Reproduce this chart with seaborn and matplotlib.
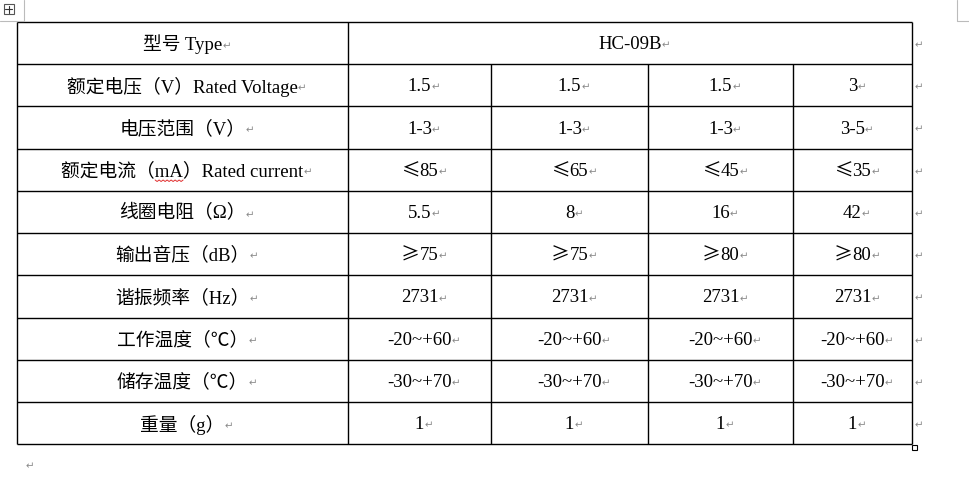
import matplotlib
matplotlib.use("Agg")  # no display
import matplotlib.pyplot as plt
import seaborn as sns

# Table content
row_labels = [
    "型号 Type",
    "额定电压（V）Rated Voltage",
    "电压范围（V）",
    "额定电流（mA）Rated current",
    "线圈电阻（Ω）",
    "输出音压（dB）",
    "谐振频率（Hz）",
    "工作温度（℃）",
    "储存温度（℃）",
    "重量（g）",
]
model_name = "HC-09B"
rated_voltage = ["1.5", "1.5", "1.5", "3"]
voltage_range = ["1-3", "1-3", "1-3", "3-5"]
rated_current = ["≤85", "≤65", "≤45", "≤35"]
coil_resistance = ["5.5", "8", "16", "42"]
sound_output = ["≥75", "≥75", "≥80", "≥80"]
resonant_freq = ["2731", "2731", "2731", "2731"]
work_temp = ["-20~+60", "-20~+60", "-20~+60", "-20~+60"]
store_temp = ["-30~+70", "-30~+70", "-30~+70", "-30~+70"]
weight = ["1", "1", "1", "1"]

body_rows = [rated_voltage, voltage_range, rated_current, coil_resistance,
             sound_output, resonant_freq, work_temp, store_temp, weight]

# Layout (pixel grid of the page)
col_edges = [17, 348, 491, 648, 793, 912]
row_edges = [22, 64, 106, 149, 191, 233, 275, 318, 360, 402, 444]
FS = 13.5
MARK_FS = 7.5
MARK = "↵"
MARK_COLOR = "#8a8a8a"
CJK = ['Noto Sans CJK SC', 'DejaVu Sans']

sns.set_theme(style="white")
plt.rcParams['font.family'] = ['Liberation Serif', 'Noto Sans CJK SC', 'DejaVu Sans']

fig = plt.figure(figsize=(9.69, 4.88), dpi=100)
ax = fig.add_axes([0, 0, 1, 1])
ax.set_xlim(0, 969)
ax.set_ylim(488, 0)
ax.axis('off')
renderer = fig.canvas.get_renderer()


def add_mark(t):
    ax.annotate(MARK, xy=(1, 0.15), xycoords=t, ha='left', va='bottom',
                fontsize=MARK_FS, color=MARK_COLOR, family=['DejaVu Sans'])


def cell_text(x, y, s):
    y = y + 1.5
    if s[0] in "≤≥":
        # wide CJK comparison sign followed by serif digits, centred as a whole
        sym = ax.text(x, y, s[0], ha='left', va='center', fontsize=FS,
                      color='black', family=CJK)
        num = ax.annotate(s[1:], xy=(1, 0.5), xycoords=sym, ha='left',
                          va='center', fontsize=FS, color='black')
        w = (sym.get_window_extent(renderer).width
             + num.get_window_extent(renderer).width)
        sym.set_x(x - w / 2)
        add_mark(num)
        return sym
    t = ax.text(x, y, s, ha='center', va='center', fontsize=FS, color='black')
    add_mark(t)
    return t


# grid lines
ax.hlines(row_edges, col_edges[0], col_edges[-1], colors='black', lw=1.0)
ax.vlines([col_edges[0], col_edges[1], col_edges[-1]], row_edges[0], row_edges[-1],
          colors='black', lw=1.0)
ax.vlines(col_edges[2:5], row_edges[1], row_edges[-1], colors='black', lw=1.0)

centers_y = [(row_edges[i] + row_edges[i + 1]) / 2 for i in range(len(row_edges) - 1)]
label_x = (col_edges[0] + col_edges[1]) / 2

label_artists = []
for i, label in enumerate(row_labels):
    label_artists.append(cell_text(label_x, centers_y[i], label))
    # end-of-row mark outside the table
    ax.text(col_edges[-1] + 3, centers_y[i] + 2, MARK, ha='left', va='center',
            fontsize=MARK_FS, color=MARK_COLOR, family=['DejaVu Sans'])

# merged header cell
cell_text((col_edges[1] + col_edges[-1]) / 2, centers_y[0], model_name)

for r, vals in enumerate(body_rows, start=1):
    for c, v in enumerate(vals):
        cx = (col_edges[c + 1] + col_edges[c + 2]) / 2
        cell_text(cx, centers_y[r], v)

# spelling squiggle under "mA": locate it by measuring the text before it
cur = row_labels[3]
pre = cur[:cur.index("mA")]
probe = ax.text(0, 0, pre, fontsize=FS)
pre_w = probe.get_window_extent(renderer).width
probe.set_text("mA")
ma_w = probe.get_window_extent(renderer).width
probe.remove()
x0 = label_artists[3].get_window_extent(renderer).x0 + pre_w
n = int(ma_w // 2) + 1
sq_x = [x0 + k * 2 for k in range(n)]
sq_y = [centers_y[3] + 10 + (k % 2) * 1.5 for k in range(n)]
ax.plot(sq_x, sq_y, color='#e03030', lw=0.7)

# Word page decorations: table handle, margin corners, trailing paragraph mark
ax.add_patch(plt.Rectangle((4, 4), 10, 10, fill=False, ec='#555555', lw=0.8))
ax.plot([9, 9], [5.5, 12.5], color='#333333', lw=0.8)
ax.plot([5.5, 12.5], [9, 9], color='#333333', lw=0.8)
ax.plot([24, 24, 0], [0, 21, 21], color='#bbbbbb', lw=0.8)
ax.plot([969, 957, 957], [21, 21, 0], color='#bbbbbb', lw=0.8)
ax.add_patch(plt.Rectangle((912, 445), 5, 5, fill=False, ec='black', lw=0.8))
ax.text(26, 466, MARK, ha='left', va='center', fontsize=MARK_FS, color=MARK_COLOR,
        family=['DejaVu Sans'])

plt.savefig("out.png", dpi=100)
plt.close()
